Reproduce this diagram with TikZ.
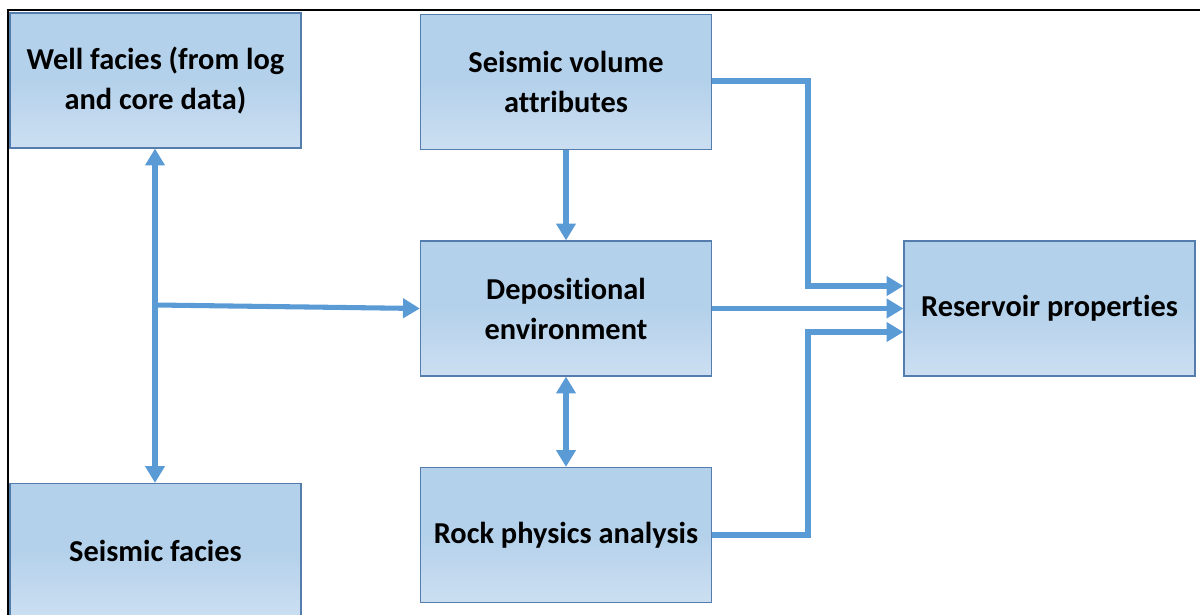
\documentclass[tikz,border=0pt]{standalone}
\usepackage{fontspec}
\setmainfont[RawFeature={-liga;-clig;-dlig;-calt}]{Carlito}
\usetikzlibrary{arrows.meta}
\definecolor{boxtop}{RGB}{180,209,235}
\definecolor{boxbot}{RGB}{204,223,241}
\definecolor{boxline}{RGB}{84,125,174}
\definecolor{flow}{RGB}{91,155,213}
\tikzset{
    stage/.style={draw=boxline, line width=0.8pt, top color=boxtop, bottom color=boxbot,
        middle color=boxtop, minimum width=7.275cm, minimum height=3.375cm,
        inner sep=0pt, align=center, font=\fontsize{21.6}{28.5}\selectfont\bfseries},
    flowline/.style={draw=flow, line width=3.6pt,
        -{Triangle[length=12pt,width=13.5pt]}},
    twoway/.style={flowline, {Triangle[length=12pt,width=13.5pt]}-{Triangle[length=12pt,width=13.5pt]}}
}
\begin{document}
\begin{tikzpicture}[x=0.025cm, y=-0.025cm]
        \useasboundingbox (0,0) rectangle (1200,615);
        \clip (0,0) rectangle (1200,615);
        \draw[line width=1.4pt] (8,620) -- (8,10) -- (1205,10);
        % boxes
        \node[stage] (well) at (155.5,80.5) {Well facies (from log\\and core data)};
        \node[stage] (seisfac) at (155.5,551) {Seismic facies};
        \node[stage] (seisvol) at (566,82) {Seismic volume\\attributes};
        \node[stage] (depo) at (566,308.5) {Depositional\\environment};
        \node[stage] (rock) at (566,535) {Rock physics analysis};
        \node[stage] (resv) at (1049.5,308.5) {Reservoir properties};
        % connectors
        \coordinate (fork) at (155,305);
        \draw[twoway] (well.south -| fork) -- (seisfac.north -| fork);
        \draw[flowline] (fork) -- (depo.west);
        \draw[flowline] (seisvol) -- (depo);
        \draw[twoway] (depo) -- (rock);
        \draw[flowline] (seisvol.east |- 0,81) -| (808,286) -- (resv.west |- 0,286);
        \draw[flowline] (depo.east) -- (resv.west);
        \draw[flowline] (rock.east) -| (808,332) -- (resv.west |- 0,332);
    \end{tikzpicture}
\end{document}
